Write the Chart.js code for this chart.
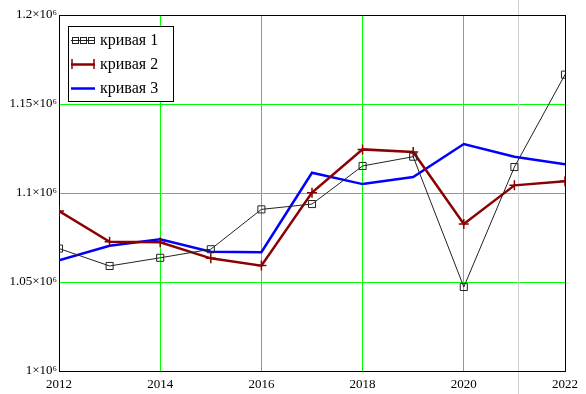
<!DOCTYPE html>
<html><head><meta charset="utf-8">
<script src="https://cdn.jsdelivr.net/npm/chart.js@4/dist/chart.umd.min.js"></script>
<style>html,body{margin:0;padding:0;background:#fff}#wrap{width:586px;height:394px}</style>
</head><body><div id="wrap"><canvas id="c" width="586" height="394"></canvas></div>
<script>
const years = [2012, 2013, 2014, 2015, 2016, 2017, 2018, 2019, 2020, 2021, 2022];
const curve1 = [1.0688e6, 1.0590e6, 1.0636e6, 1.0684e6, 1.0908e6, 1.0938e6, 1.1152e6, 1.1204e6, 1.0472e6, 1.1146e6, 1.1665e6];
const curve2 = [1.0899e6, 1.0726e6, 1.0723e6, 1.0633e6, 1.0592e6, 1.1002e6, 1.1245e6, 1.1230e6, 1.0826e6, 1.1043e6, 1.1066e6];
const curve3 = [1.0622e6, 1.0704e6, 1.0740e6, 1.0670e6, 1.0667e6, 1.1114e6, 1.1050e6, 1.1090e6, 1.1275e6, 1.1204e6, 1.1161e6];
const seriesNames = ['кривая 1', 'кривая 2', 'кривая 3'];
const yTickValues = [1.0e6, 1.05e6, 1.1e6, 1.15e6, 1.2e6];
const yTickLabels = ['1×10⁶', '1.05×10⁶', '1.1×10⁶', '1.15×10⁶', '1.2×10⁶'];
const markerX = 2021.07;

const pts = arr => arr.map((v, i) => ({x: years[i], y: v}));
const FONT = '"Liberation Serif", "Times New Roman", serif';

const framePlugin = {
  id: 'frame',
  beforeDatasetsDraw(chart) {
    const {ctx, chartArea: a, scales} = chart;
    ctx.save();
    const mx = Math.round(scales.x.getPixelForValue(markerX)) + 0.5;
    ctx.strokeStyle = '#d0d0d0';
    ctx.lineWidth = 1;
    ctx.beginPath(); ctx.moveTo(mx, 0); ctx.lineTo(mx, chart.height); ctx.stroke();
    ctx.strokeStyle = '#000';
    ctx.lineWidth = 1;
    ctx.strokeRect(Math.round(a.left) + 0.5, Math.round(a.top) + 0.5, Math.round(a.right - a.left), Math.round(a.bottom - a.top));
    ctx.restore();
  },
  afterDraw(chart) {
    const {ctx, chartArea: a} = chart;
    const x0 = a.left + 9, y0 = a.top + 11, w = 105, h = 75;
    ctx.save();
    ctx.fillStyle = '#fff';
    ctx.fillRect(x0, y0, w, h);
    ctx.strokeStyle = '#000';
    ctx.lineWidth = 1;
    ctx.strokeRect(x0 + 0.5, y0 + 0.5, w, h);
    const rows = [y0 + 14, y0 + 38, y0 + 62];
    const sx0 = x0 + 3, sx1 = x0 + 27;
    ctx.font = '16px ' + FONT;
    ctx.textBaseline = 'middle';
    ctx.fillStyle = '#000';
    chart.data.datasets.forEach((ds, i) => {
      if (i > 2) return;
      const y = rows[i];
      ctx.strokeStyle = ds.borderColor;
      ctx.lineWidth = ds.borderWidth;
      ctx.beginPath(); ctx.moveTo(sx0, y + 0.5); ctx.lineTo(sx1, y + 0.5); ctx.stroke();
      if (i === 0) {
        ctx.lineWidth = 1;
        [sx0 + 4, sx0 + 12, sx0 + 20].forEach(cx => {
          ctx.strokeRect(Math.round(cx - 3) + 0.5, Math.round(y - 3) + 0.5, 6, 6);
        });
      } else if (i === 1) {
        ctx.lineWidth = 1.5;
        [sx0 + 1, sx1 - 1].forEach(cx => {
          ctx.beginPath(); ctx.moveTo(cx, y - 5); ctx.lineTo(cx, y + 5); ctx.stroke();
        });
      }
      ctx.fillStyle = '#000';
      ctx.fillText(ds.label, x0 + 32, y + 1);
    });
    ctx.restore();
  }
};

new Chart(document.getElementById('c'), {
  type: 'line',
  data: {
    datasets: [
      {label: seriesNames[0], data: pts(curve1), borderColor: '#222', borderWidth: 1, pointStyle: 'rect', pointRadius: 5, pointBorderColor: '#222', pointBackgroundColor: 'rgba(0,0,0,0)', pointBorderWidth: 1, tension: 0},
      {label: seriesNames[1], data: pts(curve2), borderColor: '#8b0000', borderWidth: 2.5, pointStyle: 'cross', pointRadius: 5, pointBorderColor: '#8b0000', pointBorderWidth: 1.5, tension: 0},
      {label: seriesNames[2], data: pts(curve3), borderColor: '#0000ff', borderWidth: 2.5, pointRadius: 0, tension: 0}
    ]
  },
  options: {
    responsive: false,
    animation: false,
    layout: {padding: {top: 15, right: 21, left: 0, bottom: 0}},
    plugins: {legend: {display: false}, tooltip: {enabled: false}},
    scales: {
      x: {
        type: 'linear', min: 2012, max: 2022,
        afterFit: s => { s.height = 23; },
        ticks: {stepSize: 2, padding: 6, color: '#000', font: {family: FONT, size: 13}, maxRotation: 0,
          callback: v => String(v)},
        grid: {color: '#00ff00', lineWidth: 1, drawTicks: false},
        border: {display: false}
      },
      y: {
        min: 1.0e6, max: 1.2e6,
        afterFit: s => { s.width = 59; },
        afterBuildTicks: s => { s.ticks = yTickValues.map(v => ({value: v})); },
        ticks: {padding: 2, color: '#000', font: {family: FONT, size: 13},
          callback: (v, i) => yTickLabels[yTickValues.indexOf(v)]},
        grid: {color: '#00ff00', lineWidth: 1, drawTicks: false},
        border: {display: false}
      }
    }
  },
  plugins: [framePlugin]
});
</script></body></html>
